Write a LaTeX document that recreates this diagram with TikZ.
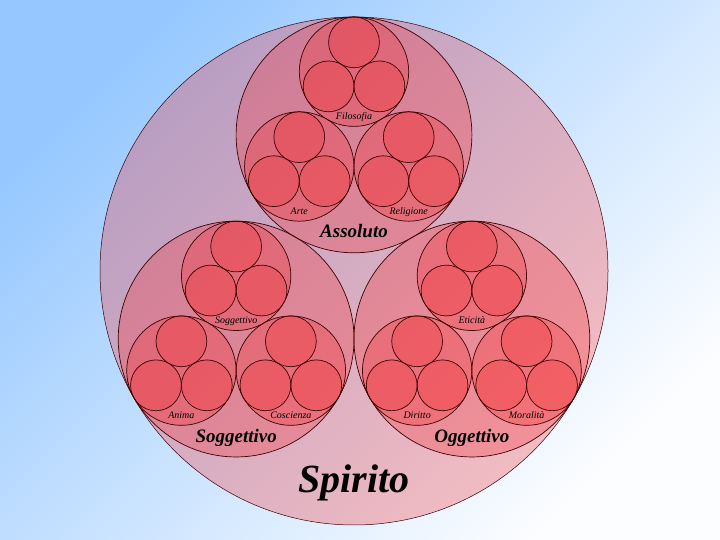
\documentclass[tikz,border=0pt]{standalone}
\usepackage{fontspec}
\setmainfont{Liberation Serif}
\usetikzlibrary{calc}
\definecolor{skyblue}{RGB}{150,200,255}
\definecolor{paleblue}{RGB}{252,253,255}
\definecolor{spiritred}{RGB}{245,50,55}
\definecolor{rim}{RGB}{60,0,0}

\begin{document}
\begin{tikzpicture}[
    x=1pt, y=1pt,
    sphere/.style={circle, draw=rim, fill=spiritred, fill opacity=0.3, draw opacity=1, line width=0.7pt, inner sep=0pt},
    spirit/.style={sphere, minimum size=508pt, line width=0.5pt},
    moment/.style={sphere, minimum size=235.8pt},
    figure/.style={sphere, minimum size=109.4pt},
    cell/.style={sphere, minimum size=50.8pt},
    smalllabel/.style={anchor=base, inner sep=0pt, font=\fontsize{10}{10}\selectfont\itshape},
    midlabel/.style={anchor=base, inner sep=0pt, font=\fontsize{19}{19}\selectfont\bfseries\itshape},
    biglabel/.style={anchor=base, inner sep=0pt, font=\fontsize{40}{40}\selectfont\bfseries\itshape}
]

% Background
\shade[left color=skyblue, right color=paleblue, shading angle=45] (0,0) rectangle (720,540);
\useasboundingbox (0,0) rectangle (720,540);

% Spirito
\node[spirit] (spi) at (354,269) {};

% Assoluto, Soggettivo, Oggettivo
\node[moment] (ass) at ($(spi)+(90:136.1)$) {};
\node[moment] (sog) at ($(spi)+(210:136.1)$) {};
\node[moment] (ogg) at ($(spi)+(330:136.1)$) {};

% Figures of each moment
\node[figure] (fil) at ($(ass)+(90:63.2)$) {};
\node[figure] (art) at ($(ass)+(210:63.2)$) {};
\node[figure] (rel) at ($(ass)+(330:63.2)$) {};
\node[figure] (sgg) at ($(sog)+(90:63.2)$) {};
\node[figure] (ani) at ($(sog)+(210:63.2)$) {};
\node[figure] (cos) at ($(sog)+(330:63.2)$) {};
\node[figure] (eti) at ($(ogg)+(90:63.2)$) {};
\node[figure] (dir) at ($(ogg)+(210:63.2)$) {};
\node[figure] (mor) at ($(ogg)+(330:63.2)$) {};

% Smallest circles
\foreach \f in {fil,art,rel,sgg,ani,cos,eti,dir,mor}
  \foreach \a/\k in {90/a,210/b,330/c}
    \node[cell] (\f-\k) at ($(\f)+(\a:29.35)$) {};

% Labels
\node[smalllabel] (fil-t) at ($(fil.south)+(0,7.5)$) {Filosofia};
\node[smalllabel] (art-t) at ($(art.south)+(0,7.5)$) {Arte};
\node[smalllabel] (rel-t) at ($(rel.south)+(0,7.5)$) {Religione};
\node[smalllabel] (sgg-t) at ($(sgg.south)+(0,7.5)$) {Soggettivo};
\node[smalllabel] (ani-t) at ($(ani.south)+(0,7.5)$) {Anima};
\node[smalllabel] (cos-t) at ($(cos.south)+(0,7.5)$) {Coscienza};
\node[smalllabel] (eti-t) at ($(eti.south)+(0,7.5)$) {Eticità};
\node[smalllabel] (dir-t) at ($(dir.south)+(0,7.5)$) {Diritto};
\node[smalllabel] (mor-t) at ($(mor.south)+(0,7.5)$) {Moralità};

\node[midlabel] (ass-t) at ($(ass.south)+(0,15.5)$) {Assoluto};
\node[midlabel] (sog-t) at ($(sog.south)+(0,14.5)$) {Soggettivo};
\node[midlabel] (ogg-t) at ($(ogg.south)+(0,14.5)$) {Oggettivo};

\node[biglabel] (spi-t) at ($(spi.south)+(0,33)$) {Spirito};

\end{tikzpicture}
\end{document}
